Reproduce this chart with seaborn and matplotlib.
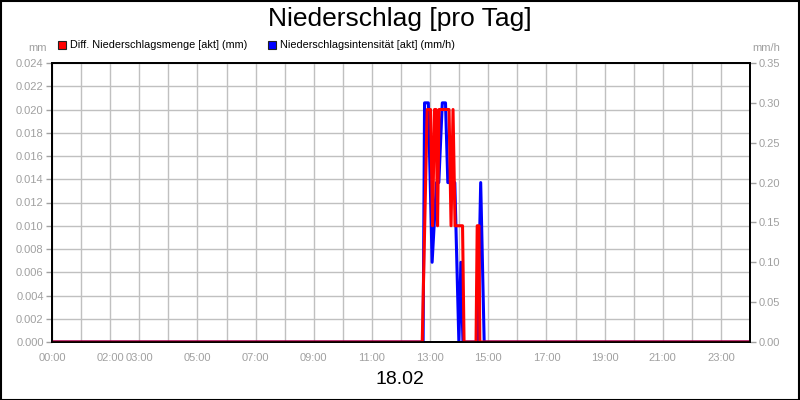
import matplotlib
matplotlib.use("Agg")
import matplotlib.pyplot as plt
import matplotlib.patches as mpatches
import numpy as np
import pandas as pd
import seaborn as sns

# ---- data (hours of day, values) ----
red_hours = [0.0, 12.73, 12.90, 13.016, 13.085, 13.153, 13.205, 13.257, 13.308,
             13.652, 13.721, 13.789, 13.858, 14.116, 14.168, 14.58, 14.62, 14.68, 14.71, 24.0]
red_mm = [0.0, 0.0, 0.020, 0.020, 0.010, 0.020, 0.020, 0.010, 0.020,
          0.020, 0.010, 0.020, 0.010, 0.010, 0.0, 0.0, 0.010, 0.010, 0.0, 0.0]

blue_hours = [0.0, 12.76, 12.81, 12.94, 13.07, 13.22, 13.30, 13.42, 13.53, 13.61,
              13.85, 13.99, 14.06, 14.13, 14.63, 14.74, 14.86, 24.0]
blue_mmh = [0.0, 0.0, 0.30, 0.30, 0.10, 0.20, 0.20, 0.30, 0.30, 0.20,
            0.20, 0.0, 0.10, 0.0, 0.0, 0.20, 0.0, 0.0]

xtick_hours = [0, 2, 3, 5, 7, 9, 11, 13, 15, 17, 19, 21, 23]
xtick_labels = ["00:00", "02:00", "03:00", "05:00", "07:00", "09:00", "11:00",
                "13:00", "15:00", "17:00", "19:00", "21:00", "23:00"]
left_ticks = [round(0.002 * i, 3) for i in range(13)]
right_ticks = [round(0.05 * i, 2) for i in range(8)]

title = "Niederschlag [pro Tag]"
legend_red = "Diff. Niederschlagsmenge [akt] (mm)"
legend_blue = "Niederschlagsintensität [akt] (mm/h)"
date_label = "18.02"

sns.set_style("white")
narrow = ["Liberation Sans Narrow", "Liberation Sans", "DejaVu Sans"]
plt.rcParams["font.family"] = ["Liberation Sans", "DejaVu Sans"]

GREY = "#a0a0a0"
GRID = "#c0c0c0"

fig = plt.figure(figsize=(8, 4), dpi=100)
fig.patch.set_facecolor("white")

ax = fig.add_axes([0.065, 0.145, 0.8725, 0.6975])
ax.set_xlim(0, 24)
ax.set_ylim(0, 0.024)
ax.set_xticks(xtick_hours)
ax.set_xticklabels(xtick_labels)
ax.set_xticks(list(range(25)), minor=True)
ax.set_yticks(left_ticks)
ax.set_yticklabels([f"{v:.3f}" for v in left_ticks])
ax.grid(True, which="both", axis="x", color=GRID, lw=1)
ax.grid(True, which="major", axis="y", color=GRID, lw=1)
ax.tick_params(axis="both", which="both", direction="out", length=4, width=1,
               color=GREY, labelcolor=GREY, labelsize=8, pad=2)
ax.tick_params(axis="x", which="major", pad=4)
for lab in ax.get_xticklabels() + ax.get_yticklabels():
    lab.set_family(narrow)

ax_b = ax.twinx()
ax_b.set_ylim(0, 0.35)
ax_b.set_yticks(right_ticks)
ax_b.set_yticklabels([f"{v:.2f}" for v in right_ticks])
ax_b.tick_params(axis="y", direction="out", length=4, width=1, color=GREY,
                 labelcolor=GREY, labelsize=8, pad=2)
for lab in ax_b.get_yticklabels():
    lab.set_family(narrow)
df_b = pd.DataFrame({"h": blue_hours, "v": blue_mmh})
sns.lineplot(data=df_b, x="h", y="v", ax=ax_b, color="#0000ff", lw=2.2,
             estimator=None, sort=False)
ax_b.set_xlabel("")
ax_b.set_ylabel("")

ax_r = ax.twinx()
ax_r.set_ylim(0, 0.024)
ax_r.set_yticks([])
df_r = pd.DataFrame({"h": red_hours, "v": red_mm})
sns.lineplot(data=df_r, x="h", y="v", ax=ax_r, color="#ff0000", lw=2.2,
             estimator=None, sort=False)
ax_r.set_xlabel("")
ax_r.set_ylabel("")
ax_r.set_xlim(0, 24)
ax_b.set_xlim(0, 24)
ax.set_xlabel("")
ax.set_ylabel("")

for a in (ax, ax_b, ax_r):
    for s in a.spines.values():
        s.set_color("black")
        s.set_linewidth(1.2)

# axis unit labels
fig.text(47 / 800, 1 - 48 / 400, "mm", color=GREY, fontsize=8, ha="right",
         va="center", family=narrow)
fig.text(752 / 800, 1 - 48 / 400, "mm/h", color=GREY, fontsize=8, ha="left",
         va="center", family=narrow)

# title
fig.text(0.5, 1 - 19 / 400, title, fontsize=19, ha="center", va="center",
         family=narrow, color="black")

# legend
for x0, col, txt in ((58, "#ff0000", legend_red), (268, "#0000ff", legend_blue)):
    fig.patches.append(mpatches.Rectangle((x0 / 800, 1 - 49 / 400), 8 / 800, 8 / 400,
                                          facecolor=col, edgecolor="#202020", lw=0.8,
                                          transform=fig.transFigure, figure=fig))
    fig.text((x0 + 12) / 800, 1 - 45 / 400, txt, fontsize=7.8, ha="left",
             va="center", color="black")

# date label
fig.text(0.5, 1 - 380 / 400, date_label, fontsize=14, ha="center", va="center",
         family=narrow, color="black")

# figure border
fig.patches.append(mpatches.Rectangle((0.0007, 0.0012), 0.9985, 0.997, fill=False,
                                      edgecolor="black", lw=1.5,
                                      transform=fig.transFigure, figure=fig))

fig.savefig("out.png", dpi=100)
